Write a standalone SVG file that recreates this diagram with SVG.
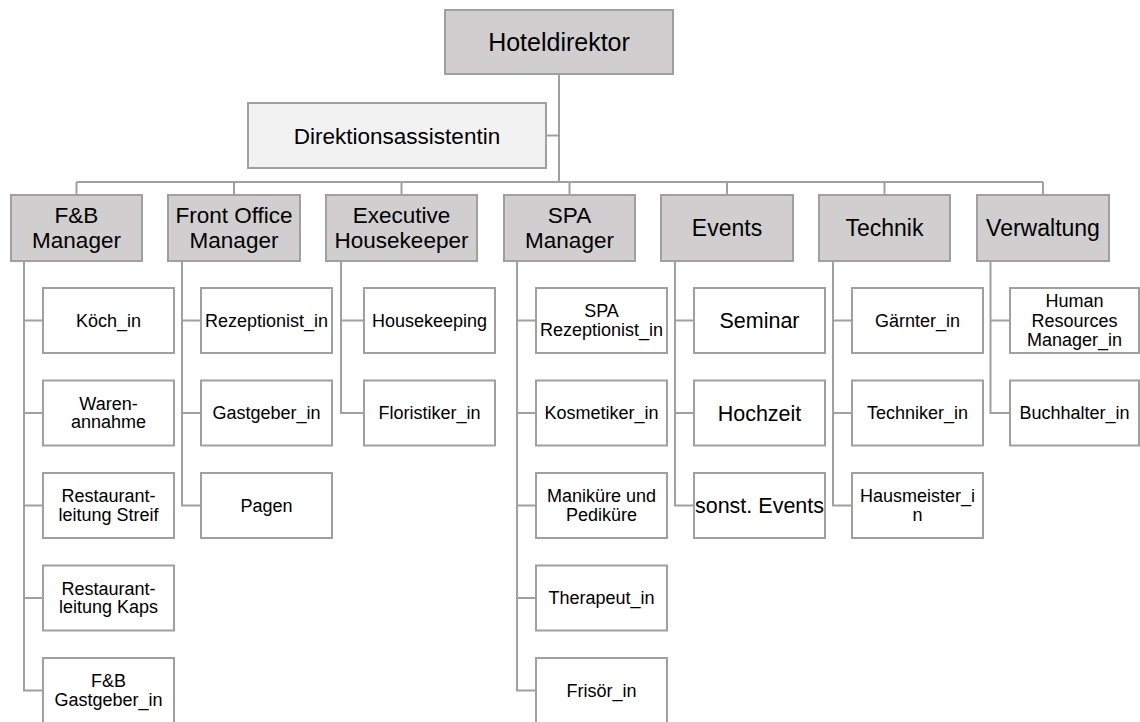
<svg xmlns="http://www.w3.org/2000/svg" width="1140" height="722" viewBox="0 0 1140 722">
<style>
.box{stroke:#a0a0a0;stroke-width:2}
.top{fill:#d0cece}
.asst{fill:#f2f2f2}
.child{fill:#ffffff}
.con{fill:none;stroke:#a0a0a0;stroke-width:2}
text{font-family:"Liberation Sans",Arial,sans-serif;fill:#000;text-anchor:middle}
.t25{font-size:25px}
.t22{font-size:22.5px}
.t23{font-size:23px}
.t23b{font-size:22.5px}
.t18{font-size:18px}
.t21{font-size:21.5px}
</style>
<rect width="1140" height="722" fill="#ffffff"/>
<g id="connectors">
<path class="con" d="M559 74V182M546 135.5H559M76.5 182H1043M76.5 182V195M234 182V195M401.5 182V195M569.5 182V195M727 182V195M884.5 182V195M1043 182V195"/>
<path class="con" d="M24 261V690.5H43M24 320.5H43M24 413H43M24 505.5H43M24 598H43"/>
<path class="con" d="M182 261V505.5H201M182 320.5H201M182 413H201"/>
<path class="con" d="M341 261V413H364M341 320.5H364"/>
<path class="con" d="M517 261V690.5H536M517 320.5H536M517 413H536M517 505.5H536M517 598H536"/>
<path class="con" d="M675 261V505.5H694M675 320.5H694M675 413H694"/>
<path class="con" d="M833 261V505.5H852M833 320.5H852M833 413H852"/>
<path class="con" d="M990.5 261V413H1010M990.5 320.5H1010"/>
</g>
<g id="hoteldirektor"><rect class="box top" x="445" y="10" width="228" height="64"/><text class="t25" x="559" y="51">Hoteldirektor</text></g>
<g id="direktionsassistentin"><rect class="box asst" x="248" y="103" width="298" height="65"/><text class="t22" x="397" y="143.5">Direktionsassistentin</text></g>
<g id="fb-manager"><rect class="box top" x="11" y="195" width="131" height="66"/><text class="t23b" x="76.5" y="222.5">F&amp;B</text><text class="t23b" x="76.5" y="247.5">Manager</text></g>
<g id="front-office-manager"><rect class="box top" x="168" y="195" width="132" height="66"/><text class="t23b" x="234" y="222.5">Front Office</text><text class="t23b" x="234" y="247.5">Manager</text></g>
<g id="executive-housekeeper"><rect class="box top" x="326" y="195" width="151" height="66"/><text class="t23b" x="401.5" y="222.5">Executive</text><text class="t23b" x="401.5" y="247.5">Housekeeper</text></g>
<g id="spa-manager"><rect class="box top" x="504" y="195" width="131" height="66"/><text class="t23b" x="569.5" y="222.5">SPA</text><text class="t23b" x="569.5" y="247.5">Manager</text></g>
<g id="events"><rect class="box top" x="661" y="195" width="132" height="66"/><text class="t23" x="727" y="236">Events</text></g>
<g id="technik"><rect class="box top" x="819" y="195" width="131" height="66"/><text class="t23" x="884.5" y="236">Technik</text></g>
<g id="verwaltung"><rect class="box top" x="977" y="195" width="132" height="66"/><text class="t23" x="1043" y="236">Verwaltung</text></g>

<g id="koech"><rect class="box child" x="43" y="288" width="131" height="65"/><text class="t18" x="108.5" y="326.5">Köch_in</text></g>
<g id="warenannahme"><rect class="box child" x="43" y="380.5" width="131" height="65"/><text class="t18" x="108.5" y="409.6">Waren-</text><text class="t18" x="108.5" y="428">annahme</text></g>
<g id="restaurant-streif"><rect class="box child" x="43" y="473" width="131" height="65"/><text class="t18" x="108.5" y="502.1">Restaurant-</text><text class="t18" x="108.5" y="520.5">leitung Streif</text></g>
<g id="restaurant-kaps"><rect class="box child" x="43" y="565.5" width="131" height="65"/><text class="t18" x="108.5" y="594.6">Restaurant-</text><text class="t18" x="108.5" y="613">leitung Kaps</text></g>
<g id="fb-gastgeber"><rect class="box child" x="43" y="658" width="131" height="70"/><text class="t18" x="108.5" y="687.1">F&amp;B</text><text class="t18" x="108.5" y="705.5">Gastgeber_in</text></g>

<g id="rezeptionist"><rect class="box child" x="201" y="288" width="131" height="65"/><text class="t18" x="266.5" y="326.5">Rezeptionist_in</text></g>
<g id="gastgeber"><rect class="box child" x="201" y="380.5" width="131" height="65"/><text class="t18" x="266.5" y="419">Gastgeber_in</text></g>
<g id="pagen"><rect class="box child" x="201" y="473" width="131" height="65"/><text class="t18" x="266.5" y="511.5">Pagen</text></g>

<g id="housekeeping"><rect class="box child" x="364" y="288" width="131" height="65"/><text class="t18" x="429.5" y="326.5">Housekeeping</text></g>
<g id="floristiker"><rect class="box child" x="364" y="380.5" width="131" height="65"/><text class="t18" x="429.5" y="419">Floristiker_in</text></g>

<g id="spa-rezeptionist"><rect class="box child" x="536" y="288" width="131" height="65"/><text class="t18" x="601.5" y="317.1">SPA</text><text class="t18" x="601.5" y="335.5">Rezeptionist_in</text></g>
<g id="kosmetiker"><rect class="box child" x="536" y="380.5" width="131" height="65"/><text class="t18" x="601.5" y="419">Kosmetiker_in</text></g>
<g id="manikuere"><rect class="box child" x="536" y="473" width="131" height="65"/><text class="t18" x="601.5" y="502.1">Maniküre und</text><text class="t18" x="601.5" y="520.5">Pediküre</text></g>
<g id="therapeut"><rect class="box child" x="536" y="565.5" width="131" height="65"/><text class="t18" x="601.5" y="604">Therapeut_in</text></g>
<g id="frisoer"><rect class="box child" x="536" y="658" width="131" height="70"/><text class="t18" x="601.5" y="696.5">Frisör_in</text></g>

<g id="seminar"><rect class="box child" x="694" y="288" width="131" height="65"/><text class="t21" x="759.5" y="328">Seminar</text></g>
<g id="hochzeit"><rect class="box child" x="694" y="380.5" width="131" height="65"/><text class="t21" x="759.5" y="420.5">Hochzeit</text></g>
<g id="sonst-events"><rect class="box child" x="694" y="473" width="131" height="65"/><text class="t21" x="759.5" y="513">sonst. Events</text></g>

<g id="gaertner"><rect class="box child" x="852" y="288" width="131" height="65"/><text class="t18" x="917.5" y="326.5">Gärnter_in</text></g>
<g id="techniker"><rect class="box child" x="852" y="380.5" width="131" height="65"/><text class="t18" x="917.5" y="419">Techniker_in</text></g>
<g id="hausmeister"><rect class="box child" x="852" y="473" width="131" height="65"/><text class="t18" x="917.5" y="502.1">Hausmeister_i</text><text class="t18" x="917.5" y="520.5">n</text></g>

<g id="hr-manager"><rect class="box child" x="1010" y="288" width="129" height="65"/><text class="t18" x="1074.5" y="307.2">Human</text><text class="t18" x="1074.5" y="326.5">Resources</text><text class="t18" x="1074.5" y="345.8">Manager_in</text></g>
<g id="buchhalter"><rect class="box child" x="1010" y="380.5" width="129" height="65"/><text class="t18" x="1074.5" y="419">Buchhalter_in</text></g>
</svg>
